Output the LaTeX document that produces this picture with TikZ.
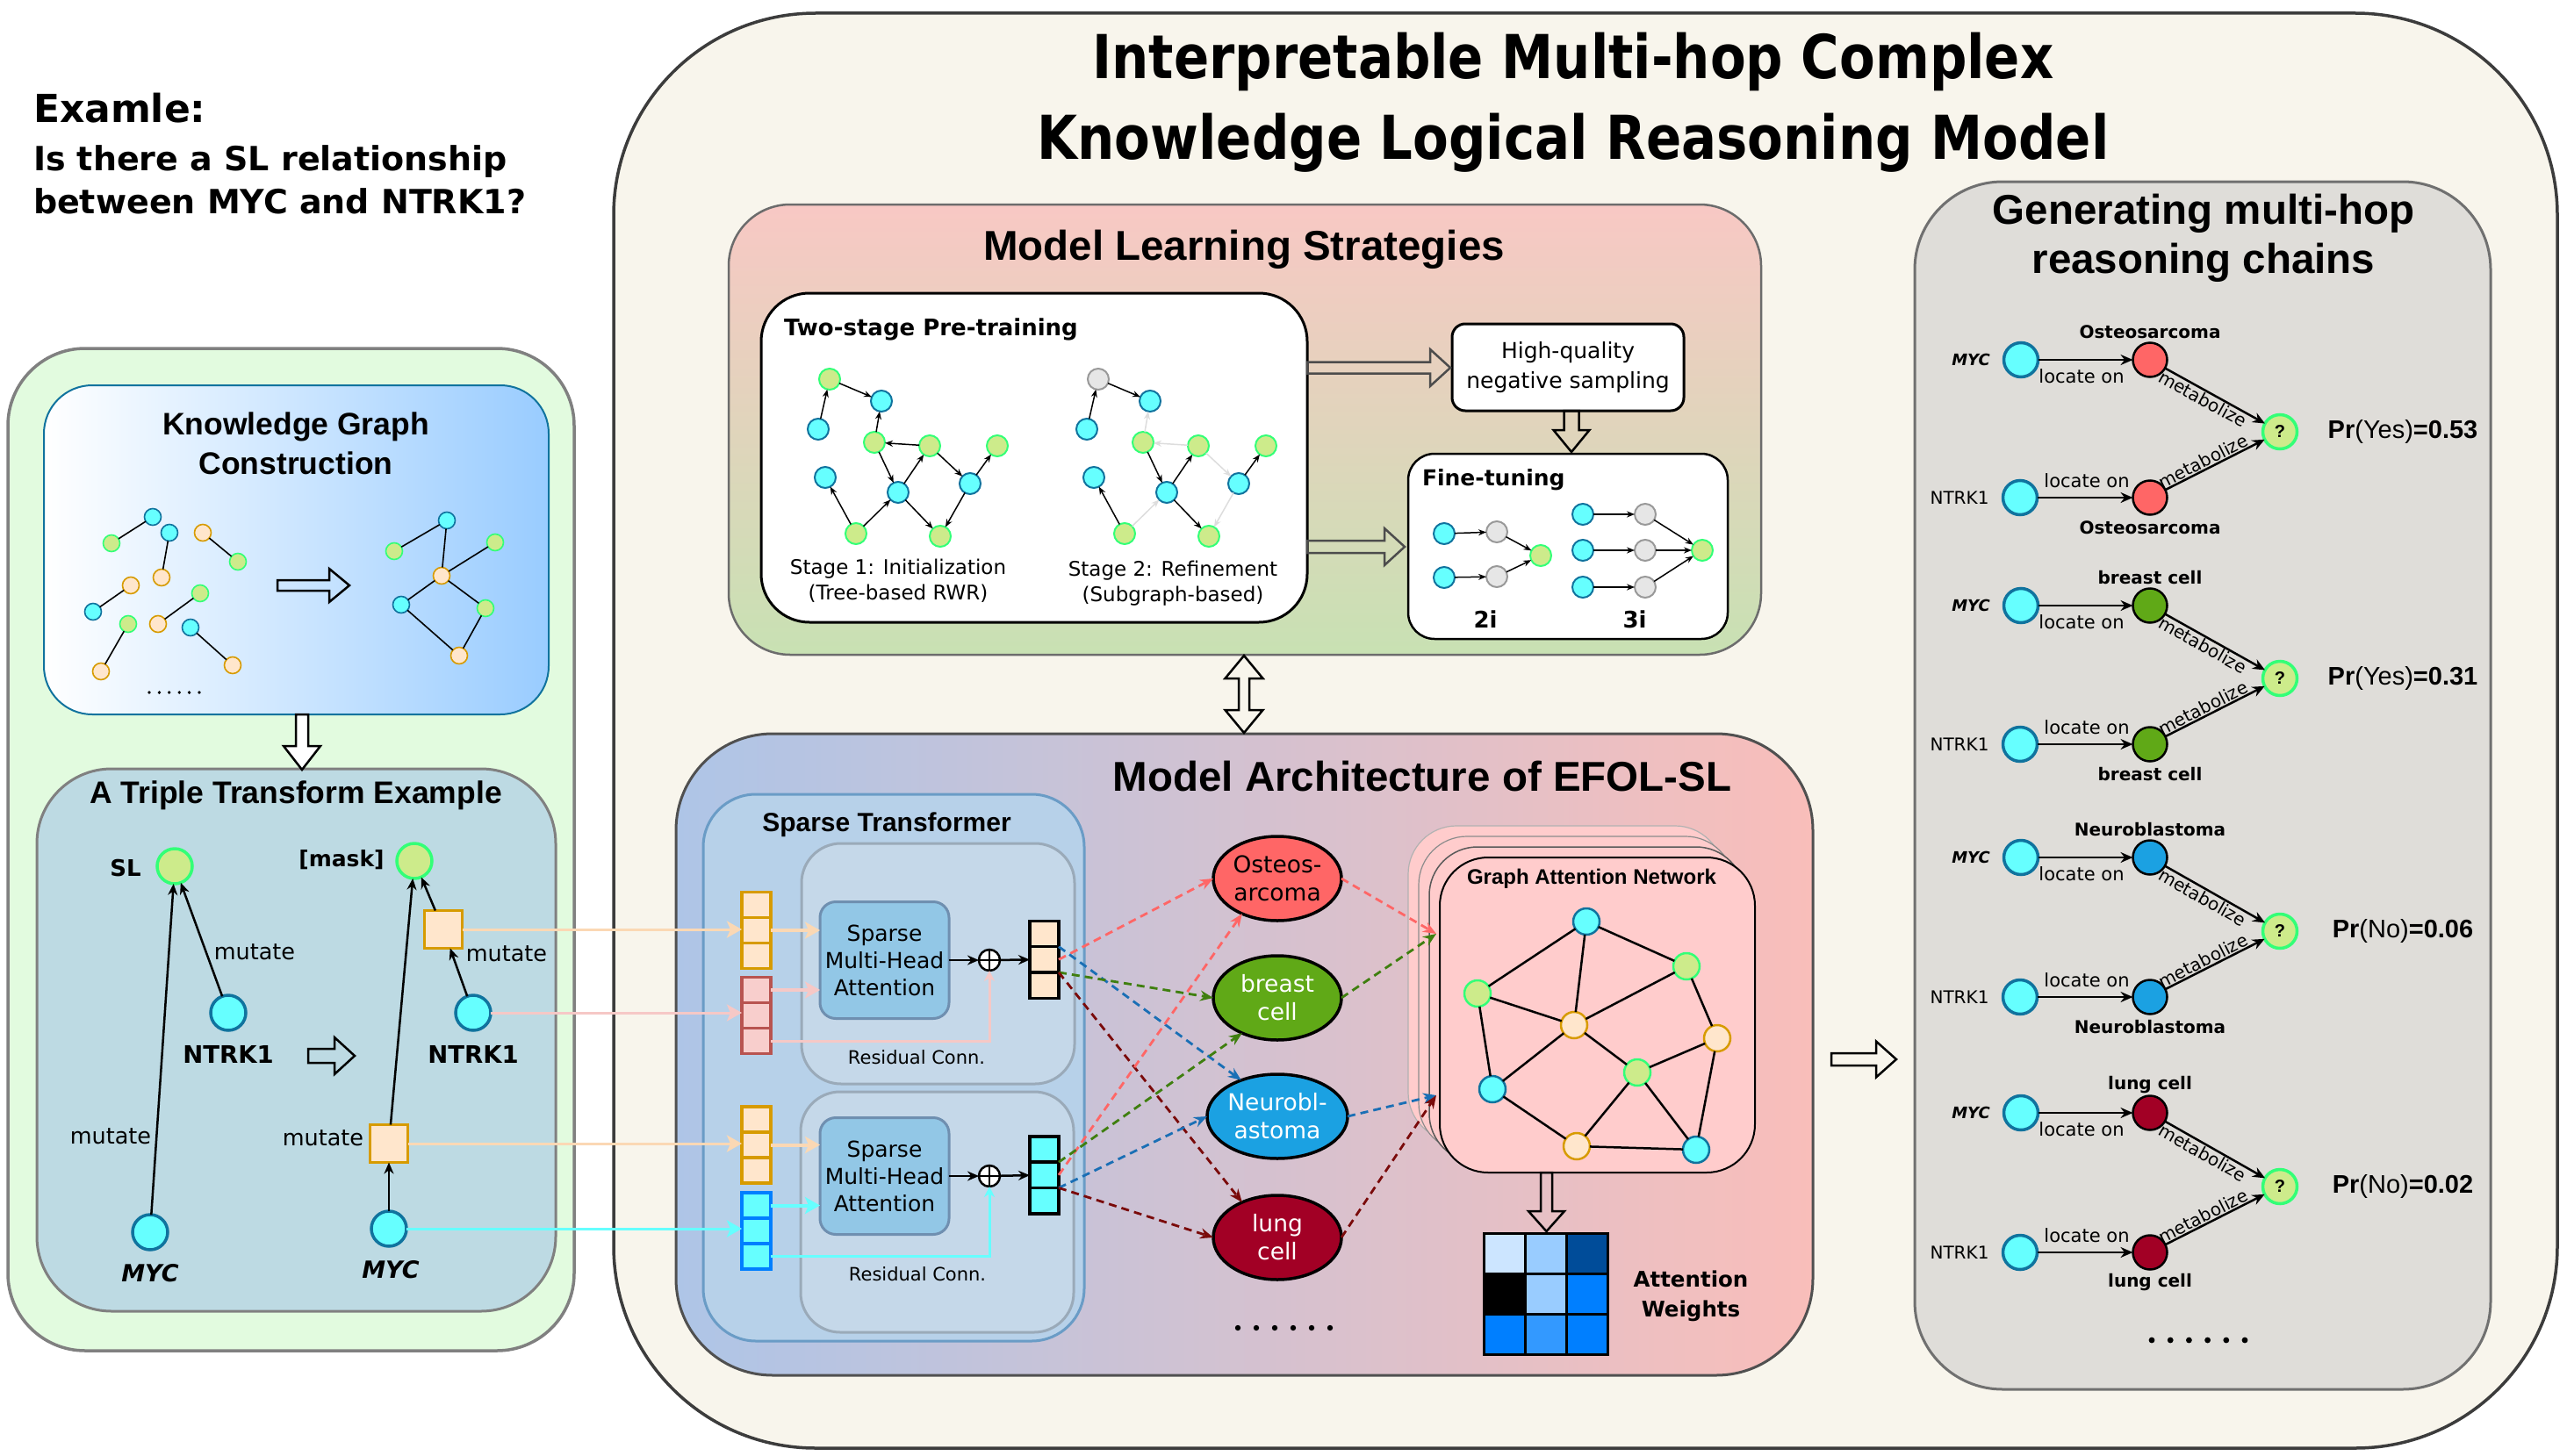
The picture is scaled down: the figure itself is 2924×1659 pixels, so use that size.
\documentclass[tikz,border=0pt]{standalone}
\usepackage{fontspec}
\setmainfont{DejaVu Sans}
\newfontfamily\arial{Liberation Sans}
\newfontfamily\narrowfont[FakeStretch=0.86]{DejaVu Sans}
\usetikzlibrary{arrows.meta,shapes.geometric}
\newcommand\fsz[2]{\fontsize{#1}{#2}\selectfont}
\definecolor{cyanF}{HTML}{66FFFF}
\definecolor{cyanD}{HTML}{10739E}
\definecolor{greenF}{HTML}{CDEB8B}
\definecolor{greenD}{HTML}{33FF77}
\definecolor{orangeF}{HTML}{FFE6CC}
\definecolor{orangeD}{HTML}{D79B00}
\definecolor{grayF}{HTML}{E6E6E6}
\definecolor{grayD}{HTML}{999999}
\definecolor{redF}{HTML}{F8CECC}
\definecolor{redD}{HTML}{B85450}
\definecolor{blueD}{HTML}{007FFF}
\definecolor{osteoC}{HTML}{FF6666}
\definecolor{breastC}{HTML}{60A917}
\definecolor{neuroC}{HTML}{1BA1E2}
\definecolor{lungC}{HTML}{A20025}
\definecolor{dRed}{HTML}{FF6666}
\definecolor{dGreen}{HTML}{3F7F0F}
\definecolor{dBlue}{HTML}{1A6FB5}
\definecolor{dDark}{HTML}{7A0A0A}
\definecolor{peachL}{HTML}{FBD8B4}
\definecolor{pinkL}{HTML}{F6C8C6}
\definecolor{beige}{HTML}{F8F5EC}
\definecolor{outerD}{HTML}{3C3C3C}
\definecolor{panelG}{HTML}{E2FBDF}
\definecolor{panelD}{HTML}{808080}
\definecolor{kgR}{HTML}{99CCFF}
\definecolor{kgD}{HTML}{10739E}
\definecolor{tripleB}{HTML}{BDDAE3}
\definecolor{grayP}{HTML}{DFDDD9}
\definecolor{grayPD}{HTML}{707070}
\definecolor{stB}{HTML}{B7D1E9}
\definecolor{stD}{HTML}{6A9CC6}
\definecolor{inB}{HTML}{C5D8E9}
\definecolor{inD}{HTML}{9AAAB9}
\definecolor{smF}{HTML}{92C7E6}
\definecolor{smD}{HTML}{6F8FB0}
\definecolor{ganF}{HTML}{FFCCCC}
\definecolor{mlsT}{HTML}{F8C8C4}
\definecolor{mlsB}{HTML}{C8E1B3}
\definecolor{archL}{HTML}{AEC5E7}
\definecolor{archR}{HTML}{F9BEBA}
\definecolor{faint}{HTML}{DDDDDD}
\definecolor{ma}{HTML}{CCE5FF}
\definecolor{mb}{HTML}{99CCFF}
\definecolor{mc}{HTML}{004C99}
\definecolor{md}{HTML}{007FFF}
\definecolor{me}{HTML}{3399FF}
% hollow arrows: [style]{x0}{x1}{y}{half shaft}{half head}{head length}
\newcommand\hArrow[7][]{\draw[hol,#1] (#2,#4-#5) -- (#3-#7,#4-#5) -- (#3-#7,#4-#6) -- (#3,#4) -- (#3-#7,#4+#6) -- (#3-#7,#4+#5) -- (#2,#4+#5) -- cycle;}
\newcommand\vArrow[7][]{\draw[hol,#1] (#2-#5,#3) -- (#2-#5,#4-#7) -- (#2-#6,#4-#7) -- (#2,#4) -- (#2+#6,#4-#7) -- (#2+#5,#4-#7) -- (#2+#5,#3) -- cycle;}
\newcommand\dArrow[7][]{\draw[hol,#1] (#2,#3) -- (#2+#6,#3+#7) -- (#2+#5,#3+#7) -- (#2+#5,#4-#7) -- (#2+#6,#4-#7) -- (#2,#4) -- (#2-#6,#4-#7) -- (#2-#5,#4-#7) -- (#2-#5,#3+#7) -- (#2-#6,#3+#7) -- cycle;}
% chain: {id}{yMYC}{yNTRK}{yQ}{colour}{label}{prob}
\newcommand\chain[7]{%
 \node[chn, fill=cyanF, draw=cyanD] (cm#1) at (2302,#2) {};
 \node[chn, fill=cyanF, draw=cyanD] (cn#1) at (2301,#3) {};
 \node[chn, fill=#5, draw=black, line width=2.5pt] (ce#1) at (2449,#2) {};
 \node[chn, fill=#5, draw=black, line width=2.5pt] (cf#1) at (2449,#3) {};
 \node[chn, fill=greenF, draw=greenD, font=\arial\bfseries\fsz{20}{24}] (cq#1) at (2597,#4) {?};
 \node[font=\bfseries\itshape\fsz{18}{22}] (cml#1) at (2245,#2) {MYC};
 \node[font=\fsz{20}{24}] (cnl#1) at (2232,#3) {NTRK1};
 \node[font=\bfseries\fsz{20}{24}] (cel#1) at (2449,#2-32) {#6};
 \node[font=\bfseries\fsz{20}{24}] (cfl#1) at (2449,#3+34) {#6};
 \node[font=\fsz{21}{25}] (clm#1) at (2371,#2+19) {locate on};
 \node[font=\fsz{21}{25}] (cln#1) at (2377,#3-19) {locate on};
 \node[font=\arial\fsz{29}{34}] (cpr#1) at (2737,#4) {#7};
 \draw[blkc] (cm#1) -- (ce#1);
 \draw[blkc] (cn#1) -- (cf#1);
 \draw[blkc] (ce#1) -- node[pos=0.42, sloped, below=2pt, font=\fsz{20}{24}] {metabolize} (cq#1);
 \draw[blkc] (cf#1) -- node[pos=0.42, sloped, above=2pt, font=\fsz{20}{24}] {metabolize} (cq#1);
}
\begin{document}
\begin{tikzpicture}[x=1pt,y=-1pt,
  every node/.style={inner sep=0pt,outer sep=0pt},
  hol/.style={draw=black, line width=2.5pt, line join=miter, fill=none},
  kgn/.style={circle, minimum size=19pt, line width=1.6pt},
  mln/.style={circle, minimum size=24pt, line width=2pt},
  trn/.style={circle, minimum size=40pt, line width=3.5pt},
  gnn/.style={circle, minimum size=30pt, line width=2.5pt},
  chn/.style={circle, minimum size=39pt, line width=3.5pt},
  ncy/.style={fill=cyanF, draw=cyanD},
  ngr/.style={fill=greenF, draw=greenD},
  nor/.style={fill=orangeF, draw=orangeD},
  ngy/.style={fill=grayF, draw=grayD},
  kge/.style={line width=1.6pt},
  gne/.style={line width=2.5pt},
  mla/.style={line width=1.5pt, -{Stealth[length=9pt,width=7pt]}},
  mlf/.style={line width=1.5pt, draw=faint, -{Stealth[length=9pt,width=7pt]}},
  blk/.style={line width=2.5pt, -{Stealth[length=13pt,width=11pt]}},
  blkc/.style={line width=2.5pt, -{Stealth[length=14pt,width=12pt]}},
  inA/.style={line width=3pt, -{Stealth[length=17pt,width=19pt,inset=4pt]}},
  inB/.style={line width=4pt, -{Stealth[length=17pt,width=19pt,inset=4pt]}},
  resA/.style={line width=3pt, -{Stealth[length=12pt,width=12pt]}},
  dsh/.style={line width=2.8pt, dash pattern=on 9pt off 6pt, -{Stealth[length=15pt,width=12pt]}},
  cellI/.style={rectangle, minimum width=33pt, minimum height=29.3pt, line width=3.5pt},
  cellO/.style={cellI, fill=orangeF, draw=orangeD},
  cellR/.style={cellI, fill=redF, draw=redD},
  cellB/.style={cellI, fill=cyanF, draw=blueD},
  cellK/.style={cellI, draw=black},
  oplus/.style={circle, minimum size=24pt, draw=black, line width=2.5pt, fill=white, path picture={\draw[line width=2.5pt] (path picture bounding box.north) -- (path picture bounding box.south) (path picture bounding box.west) -- (path picture bounding box.east);}},
  ell/.style={ellipse, minimum width=146pt, minimum height=96pt, draw=black, line width=3.5pt, align=center, font=\fsz{26.5}{32}},
  mcell/.style={rectangle, minimum width=46.7pt, minimum height=46.3pt, draw=black, line width=3pt},
  sect/.style={anchor=base, font=\arial\bfseries\fsz{47.5}{56}},
]
\useasboundingbox (0,0) rectangle (2924,1659);
\fill[white] (0,0) rectangle (2924,1659);

% ---------- big containers ----------
\node[draw=outerD, fill=beige, line width=3.5pt, rounded corners=230pt, minimum width=2214pt, minimum height=1635pt] (outer) at (1806,832.5) {};
\node[draw=panelD, fill=panelG, line width=3.5pt, rounded corners=88pt, minimum width=645pt, minimum height=1142pt] (lpanel) at (331.5,968) {};
\node[draw=kgD, line width=2pt, left color=white, right color=kgR, rounded corners=55pt, minimum width=575pt, minimum height=375pt] (kg) at (337.5,626.5) {};
\node[draw=panelD, fill=tripleB, line width=3pt, rounded corners=85pt, minimum width=591pt, minimum height=618pt] (trip) at (337.5,1185) {};
\node[draw=gray!85!black, line width=2.5pt, top color=mlsT, bottom color=mlsB, rounded corners=70pt, minimum width=1176pt, minimum height=513pt] (mls) at (1418,489.5) {};
\node[draw=outerD!90, line width=3pt, left color=archL, right color=archR, rounded corners=110pt, minimum width=1295pt, minimum height=731pt] (arch) at (1417.5,1201.5) {};
\node[draw=grayPD, fill=grayP, line width=3pt, rounded corners=100pt, minimum width=656pt, minimum height=1376pt] (rpanel) at (2509,895) {};

% ---------- titles ----------
\node[anchor=base, font=\narrowfont\bfseries\fsz{69}{80}] (title1) at (1792,90) {Interpretable Multi-hop Complex};
\node[anchor=base, font=\narrowfont\bfseries\fsz{69}{80}] (title2) at (1792,182) {Knowledge Logical Reasoning Model};
\node[anchor=base west, font=\bfseries\fsz{44}{50}] (ex) at (38,140) {Examle:};
\node[anchor=base west, font=\bfseries\fsz{38}{44}] (q1) at (38,194) {Is there a SL relationship};
\node[anchor=base west, font=\bfseries\fsz{38}{44}] (q2) at (38,243) {between MYC and NTRK1?};

% ---------- Knowledge graph construction ----------
\node[anchor=base, font=\arial\bfseries\fsz{35.5}{44}] (kgt1) at (337,495) {Knowledge Graph};
\node[anchor=base, font=\arial\bfseries\fsz{35.5}{44}] (kgt2) at (337,540) {Construction};
\node[kgn,ncy] (k1) at (174,589) {};
\node[kgn,ngr] (k2) at (127,619) {};
\node[kgn,ncy] (k3) at (193,607) {};
\node[kgn,nor] (k4) at (184,658) {};
\node[kgn,nor] (k5) at (231,607) {};
\node[kgn,ngr] (k6) at (271,640) {};
\node[kgn,nor] (k7) at (149,667) {};
\node[kgn,ncy] (k8) at (106,697) {};
\node[kgn,ngr] (k9) at (228,676) {};
\node[kgn,nor] (k10) at (180,711) {};
\node[kgn,ngr] (k11) at (146,711) {};
\node[kgn,nor] (k12) at (115,765) {};
\node[kgn,ncy] (k13) at (217,715) {};
\node[kgn,nor] (k14) at (265,758) {};
\draw[kge] (k1) -- (k2) (k3) -- (k4) (k5) -- (k6) (k7) -- (k8) (k9) -- (k10) (k11) -- (k12) (k13) -- (k14);
\node[kgn,ncy] (r1) at (509,593) {};
\node[kgn,ngr] (r2) at (449,628) {};
\node[kgn,ngr] (r3) at (564,618) {};
\node[kgn,nor] (r4) at (503,656) {};
\node[kgn,ncy] (r5) at (457,689) {};
\node[kgn,ngr] (r6) at (553,693) {};
\node[kgn,nor] (r7) at (523,747) {};
\draw[kge] (r1) -- (r2) (r1) -- (r4) (r4) -- (r3) (r4) -- (r5) (r4) -- (r6) (r5) -- (r7) (r6) -- (r7);
\foreach \i in {0,...,5} \fill (170+11.4*\i,789) circle (1.9);
\hArrow{316}{398}{667}{6}{19}{23}
\vArrow[fill=white]{344}{814}{877}{7}{21}{27}

% ---------- Triple transform ----------
\node[anchor=base, font=\arial\bfseries\fsz{35.5}{44}] (trt) at (337,915) {A Triple Transform Example};
\node[trn,ngr] (sl) at (199,987) {};
\node[trn,ncy] (ntrk) at (260,1154) {};
\node[trn,ncy] (myc) at (171,1404) {};
\node[trn,ngr] (mask) at (472,981) {};
\node[rectangle, minimum size=43pt, fill=orangeF, draw=orangeD, line width=3.5pt] (sq1) at (505,1059) {};
\node[trn,ncy] (ntrkb) at (539,1154) {};
\node[rectangle, minimum size=43pt, fill=orangeF, draw=orangeD, line width=3.5pt] (sq2) at (443,1303) {};
\node[trn,ncy] (mycb) at (443,1400) {};
\node[font=\bfseries\fsz{26}{30}] (sll) at (143,989) {SL};
\node[font=\bfseries\fsz{27.5}{32}] (ntrkl) at (260,1201) {NTRK1};
\node[font=\bfseries\itshape\fsz{27}{32}] (mycl) at (171,1451) {MYC};
\node[font=\bfseries\fsz{25}{30}] (maskl) at (389,980) {[mask]};
\node[font=\bfseries\fsz{27.5}{32}] (ntrkbl) at (539,1201) {NTRK1};
\node[font=\bfseries\itshape\fsz{27}{32}] (mycbl) at (445,1447) {MYC};
\node[font=\fsz{25.5}{30}] (mu1) at (290,1085) {mutate};
\node[font=\fsz{25.5}{30}] (mu2) at (126,1295) {mutate};
\node[font=\fsz{25.5}{30}] (mu3) at (577,1087) {mutate};
\node[font=\fsz{25.5}{30}] (mu4) at (368,1297) {mutate};
\draw[blk] (myc) -- (sl);
\draw[blk] (ntrk) -- (sl);
\draw[blk] (mycb) -- (sq2);
\draw[blk] (sq2) -- (mask);
\draw[blk] (ntrkb) -- (sq1);
\draw[blk] (sq1) -- (mask);
\hArrow{351}{404}{1203}{8}{21}{23}

% ---------- Model Learning Strategies ----------
\node[sect] (mlst) at (1417,296) {Model Learning Strategies};
\node[draw=black, fill=white, line width=3pt, rounded corners=55pt, minimum width=622pt, minimum height=375pt] (pre) at (1178,521.5) {};
\node[draw=black, fill=white, line width=3pt, rounded corners=15pt, minimum width=264pt, minimum height=99pt, align=center, font=\fsz{25}{34}] (hq) at (1786,418.5) {High-quality\\negative sampling};
\node[draw=black, fill=white, line width=2.5pt, rounded corners=30pt, minimum width=364pt, minimum height=211pt] (ft) at (1786,622.5) {};
\node[anchor=west, font=\bfseries\fsz{26}{30}] (pret) at (893,375) {Two-stage Pre-training};
\node[anchor=west, font=\bfseries\fsz{25}{30}] (ftt) at (1620,547) {Fine-tuning};
\node[align=center, font=\fsz{23}{29}] (st1) at (1023,662) {Stage 1: Initialization\\(Tree-based RWR)};
\node[align=center, font=\fsz{23}{29}] (st2) at (1336,665) {Stage 2: Refinement\\(Subgraph-based)};
% graph 1
\node[mln,ngr] (a1) at (945,432) {};
\node[mln,ncy] (a2) at (1004,457) {};
\node[mln,ncy] (a3) at (932,489) {};
\node[mln,ngr] (a4) at (996,504) {};
\node[mln,ngr] (a5) at (1059,508) {};
\node[mln,ngr] (a6) at (1136,508) {};
\node[mln,ncy] (a7) at (940,544) {};
\node[mln,ncy] (a8) at (1023,561) {};
\node[mln,ncy] (a9) at (1105,551) {};
\node[mln,ngr] (a10) at (975,608) {};
\node[mln,ngr] (a11) at (1071,611) {};
\draw[mla] (a3) -- (a1);
\draw[mla] (a1) -- (a2);
\draw[mla] (a4) -- (a2);
\draw[mla] (a5) -- (a4);
\draw[mla] (a4) -- (a8);
\draw[mla] (a8) -- (a5);
\draw[mla] (a5) -- (a9);
\draw[mla] (a9) -- (a6);
\draw[mla] (a10) -- (a7);
\draw[mla] (a10) -- (a8);
\draw[mla] (a8) -- (a11);
\draw[mla] (a9) -- (a11);
% graph 2
\node[mln,ngy] (b1) at (1251,432) {};
\node[mln,ncy] (b2) at (1310,457) {};
\node[mln,ncy] (b3) at (1238,489) {};
\node[mln,ngr] (b4) at (1302,504) {};
\node[mln,ngr] (b5) at (1365,508) {};
\node[mln,ngr] (b6) at (1442,508) {};
\node[mln,ncy] (b7) at (1246,544) {};
\node[mln,ncy] (b8) at (1329,561) {};
\node[mln,ncy] (b9) at (1411,551) {};
\node[mln,ngr] (b10) at (1281,608) {};
\node[mln,ngr] (b11) at (1377,611) {};
\draw[mla] (b3) -- (b1);
\draw[mla] (b1) -- (b2);
\draw[mlf] (b4) -- (b2);
\draw[mlf] (b5) -- (b4);
\draw[mla] (b4) -- (b8);
\draw[mla] (b8) -- (b5);
\draw[mlf] (b5) -- (b9);
\draw[mla] (b9) -- (b6);
\draw[mla] (b10) -- (b7);
\draw[mlf] (b10) -- (b8);
\draw[mla] (b8) -- (b11);
\draw[mlf] (b9) -- (b11);
% fine-tuning
\node[mln,ncy] (f1) at (1645,608) {};
\node[mln,ngy] (f2) at (1705,606) {};
\node[mln,ncy] (f3) at (1645,658) {};
\node[mln,ngy] (f4) at (1705,657) {};
\node[mln,ngr] (f5) at (1755,633) {};
\node[mln,ncy] (h1) at (1803,586) {};
\node[mln,ngy] (h2) at (1874,586) {};
\node[mln,ncy] (h3) at (1803,627) {};
\node[mln,ngy] (h4) at (1874,627) {};
\node[mln,ncy] (h5) at (1803,669) {};
\node[mln,ngy] (h6) at (1874,669) {};
\node[mln,ngr] (h7) at (1939,627) {};
\draw[mla] (f1) -- (f2);
\draw[mla] (f3) -- (f4);
\draw[mla] (f2) -- (f5);
\draw[mla] (f4) -- (f5);
\draw[mla] (h1) -- (h2);
\draw[mla] (h3) -- (h4);
\draw[mla] (h5) -- (h6);
\draw[mla] (h2) -- (h7);
\draw[mla] (h4) -- (h7);
\draw[mla] (h6) -- (h7);
\node[font=\bfseries\fsz{26}{30}] (l2i) at (1692,706) {2i};
\node[font=\bfseries\fsz{26}{30}] (l3i) at (1862,706) {3i};
\hArrow[draw=black!70]{1489}{1652}{419}{6.5}{21}{23}
\hArrow[draw=black!70]{1489}{1600}{623}{7}{21}{23}
\vArrow{1790}{468}{515}{8.5}{20.5}{25}
\dArrow{1417}{747}{835}{6}{21.5}{26}

% ---------- Model Architecture ----------
\node[sect] (archt) at (1620,901) {Model Architecture of EFOL-SL};
\node[draw=stD, fill=stB, line width=3pt, rounded corners=60pt, minimum width=434pt, minimum height=623pt] (st) at (1018,1216.5) {};
\node[anchor=base, font=\arial\bfseries\fsz{30}{36}] (stt) at (1010,947) {Sparse Transformer};
\node[draw=inD, fill=inB, line width=3pt, rounded corners=45pt, minimum width=311pt, minimum height=274pt] (in1) at (1068.5,1098) {};
\node[draw=inD, fill=inB, line width=3pt, rounded corners=45pt, minimum width=311pt, minimum height=274pt] (in2) at (1067.5,1381) {};
\node[draw=smD, fill=smF, line width=3pt, rounded corners=18pt, minimum width=147pt, minimum height=133pt, align=center, font=\fsz{25}{31}] (sm1) at (1007.5,1094) {Sparse\\Multi-Head\\Attention};
\node[draw=smD, fill=smF, line width=3pt, rounded corners=18pt, minimum width=147pt, minimum height=133pt, align=center, font=\fsz{25}{31}] (sm2) at (1007.5,1340) {Sparse\\Multi-Head\\Attention};
\node[font=\fsz{21}{25}] (rc1) at (1044,1205) {Residual Conn.};
\node[font=\fsz{21}{25}] (rc2) at (1045,1452) {Residual Conn.};
\node[oplus] (op1) at (1127,1094) {};
\node[oplus] (op2) at (1127,1340) {};
% input cells
\node[cellO] (i1a) at (861.5,1031) {};
\node[cellO] (i1b) at (861.5,1060) {};
\node[cellO] (i1c) at (861.5,1089) {};
\node[cellR] (i2a) at (861.5,1128) {};
\node[cellR] (i2b) at (861.5,1157) {};
\node[cellR] (i2c) at (861.5,1186) {};
\node[cellO] (i3a) at (861.5,1275.5) {};
\node[cellO] (i3b) at (861.5,1304.5) {};
\node[cellO] (i3c) at (861.5,1333.5) {};
\node[cellB] (i4a) at (861.5,1373.5) {};
\node[cellB] (i4b) at (861.5,1402.5) {};
\node[cellB] (i4c) at (861.5,1431.5) {};
% output cells
\node[cellK, fill=orangeF] (s1a) at (1189.5,1064) {};
\node[cellK, fill=orangeF] (s1b) at (1189.5,1093.3) {};
\node[cellK, fill=orangeF] (s1c) at (1189.5,1122.6) {};
\node[cellK, fill=cyanF] (s2a) at (1189.5,1309.5) {};
\node[cellK, fill=cyanF] (s2b) at (1189.5,1338.8) {};
\node[cellK, fill=cyanF] (s2c) at (1189.5,1368.1) {};
% inner arrows
\draw[inB, peachL] (i1b.east) -- (i1b.east -| sm1.west);
\draw[inB, pinkL] (i2a.east) -- (i2a.east -| sm1.west);
\draw[resA, pinkL] (i2c.east) -| (op1.south);
\draw[inB, peachL] (i3b.east) -- (i3b.east -| sm2.west);
\draw[inB, cyanF] (i4a.east) -- (i4a.east -| sm2.west);
\draw[resA, cyanF] (i4c.east) -| (op2.south);
\draw[blk] (sm1) -- (op1);
\draw[blk] (op1) -- (s1b);
\draw[blk] (sm2) -- (op2);
\draw[blk] (op2) -- (s2b);
% lines from triple example
\draw[inA, peachL] (sq1.east) -- (sq1.east -| i1b.west);
\draw[inA, pinkL] (ntrkb.east) -- (ntrkb.east -| i2b.west);
\draw[inA, peachL] (sq2.east) -- (sq2.east -| i3b.west);
\draw[inA, cyanF] (mycb.east) -- (mycb.east -| i4b.west);
% ellipses
\node[ell, fill=osteoC] (osteo) at (1455,1001) {Osteos-\\arcoma};
\node[ell, fill=breastC, text=white] (breast) at (1455,1137) {breast\\cell};
\node[ell, fill=neuroC, text=white] (neuro) at (1455,1272) {Neurobl-\\astoma};
\node[ell, fill=lungC, text=white] (lung) at (1455,1410) {lung\\cell};
\foreach \i in {0,...,5} \fill (1410+21*\i,1513) circle (3.2);
% GAN
\node[draw=black!30, fill=ganF, line width=1.2pt, rounded corners=55pt, minimum width=359pt, minimum height=359pt] (bk3) at (1783.5,1120.5) {};
\node[draw=black!45, fill=ganF, line width=1.2pt, rounded corners=55pt, minimum width=359pt, minimum height=359pt] (bk2) at (1795.5,1132.5) {};
\node[draw=black!65, fill=ganF, line width=1.5pt, rounded corners=55pt, minimum width=359pt, minimum height=359pt] (bk1) at (1807.5,1144.5) {};
\node[draw=black, fill=ganF, line width=2pt, rounded corners=55pt, minimum width=359pt, minimum height=359pt] (gan) at (1819.5,1156.5) {};
\node[anchor=base, font=\arial\bfseries\fsz{24}{28}] (gant) at (1813,1007) {Graph Attention Network};
\coordinate (gin1) at (1636,1064);
\coordinate (gin2) at (1636,1248);
\node[gnn,ncy] (gn1) at (1807,1050) {};
\node[gnn,ngr] (gn2) at (1921,1101) {};
\node[gnn,ngr] (gn3) at (1683,1132) {};
\node[gnn,nor] (gn4) at (1793,1168) {};
\node[gnn,nor] (gn5) at (1956,1183) {};
\node[gnn,ngr] (gn6) at (1865,1222) {};
\node[gnn,ncy] (gn7) at (1700,1241) {};
\node[gnn,nor] (gn8) at (1796,1306) {};
\node[gnn,ncy] (gn9) at (1932,1310) {};
\draw[gne] (gn1) -- (gn3) (gn1) -- (gn4) (gn1) -- (gn2) (gn3) -- (gn4) (gn3) -- (gn7) (gn4) -- (gn2) (gn4) -- (gn7) (gn4) -- (gn6) (gn2) -- (gn5) (gn5) -- (gn6) (gn5) -- (gn9) (gn6) -- (gn8) (gn6) -- (gn9) (gn7) -- (gn8) (gn8) -- (gn9);
% dashed connections
\draw[dsh, dRed] (s1b.east) -- (osteo.west);
\draw[dsh, dBlue] (s1b.north east) -- (neuro.135);
\draw[dsh, dGreen] (s1b.south east) -- (breast.west);
\draw[dsh, dDark] (s1c.north east) -- (lung.135);
\draw[dsh, dRed] (s2b.east) -- (osteo.225);
\draw[dsh, dGreen] (s2b.north east) -- (breast.225);
\draw[dsh, dBlue] (s2b.south east) -- (neuro.west);
\draw[dsh, dDark] (s2c.north east) -- (lung.west);
\draw[dsh, dRed] (osteo.east) -- (gin1);
\draw[dsh, dGreen] (breast.east) -- (gin1);
\draw[dsh, dBlue] (neuro.east) -- (gin2);
\draw[dsh, dDark] (lung.east) -- (gin2);
% attention weights
\vArrow{1761.5}{1336}{1403}{6.5}{20.5}{23}
\node[mcell, fill=ma] (w11) at (1714.3,1428.2) {};
\node[mcell, fill=mb] (w12) at (1761,1428.2) {};
\node[mcell, fill=mc] (w13) at (1807.7,1428.2) {};
\node[mcell, fill=black] (w21) at (1714.3,1474.5) {};
\node[mcell, fill=mb] (w22) at (1761,1474.5) {};
\node[mcell, fill=md] (w23) at (1807.7,1474.5) {};
\node[mcell, fill=md] (w31) at (1714.3,1520.8) {};
\node[mcell, fill=me] (w32) at (1761,1520.8) {};
\node[mcell, fill=md] (w33) at (1807.7,1520.8) {};
\node[align=center, font=\bfseries\fsz{24.5}{34}] (attw) at (1926,1477) {Attention\\Weights};
\hArrow{2086}{2160}{1207}{7}{20.5}{23}

% ---------- reasoning chains ----------
\node[sect] (rpt1) at (2510,255) {Generating multi-hop};
\node[sect] (rpt2) at (2510,311) {reasoning chains};
\chain{1}{410}{567}{492}{osteoC}{Osteosarcoma}{\textbf{Pr}(Yes)\textbf{=0.53}}
\chain{2}{690}{848}{773}{breastC}{breast cell}{\textbf{Pr}(Yes)\textbf{=0.31}}
\chain{3}{977}{1136}{1061}{neuroC}{Neuroblastoma}{\textbf{Pr}(No)\textbf{=0.06}}
\chain{4}{1268}{1427}{1352}{lungC}{lung cell}{\textbf{Pr}(No)\textbf{=0.02}}
\foreach \i in {0,...,5} \fill (2451+21.2*\i,1527) circle (3.4);
\end{tikzpicture}
\end{document}
